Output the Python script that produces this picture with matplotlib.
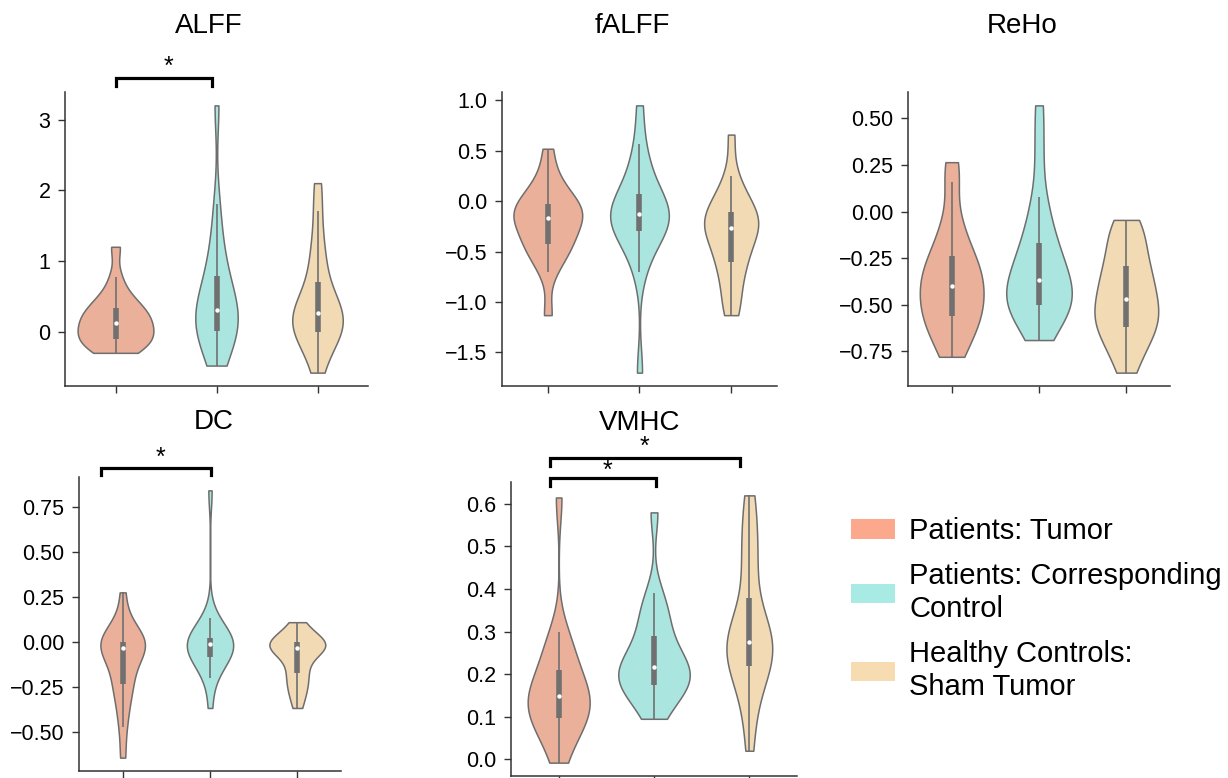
import matplotlib
matplotlib.use("Agg")
import matplotlib.pyplot as plt
from matplotlib.patches import Patch
from matplotlib.ticker import MultipleLocator
from matplotlib import cbook

plt.rcParams['font.family'] = ['Liberation Sans', 'DejaVu Sans']

groups = ['Patients: Tumor', 'Patients: Corresponding\nControl', 'Healthy Controls:\nSham Tumor']
violin_colors = ['#EBB09A', '#ABE5DF', '#F2DAB5']
legend_colors = ['#FBA88D', '#A8EBE4', '#F6DCB0']

# estimated samples per group (min, quartiles, median, whiskers, max)
alff_tumor = [-0.30, -0.28, -0.22, -0.15, -0.11, -0.10, -0.06, -0.02, 0.05, 0.10,
              0.14, 0.18, 0.22, 0.27, 0.31, 0.39, 0.45, 0.55, 0.77, 1.20]
alff_ctrl = [-0.48, -0.35, -0.22, -0.10, -0.02, 0.02, 0.10, 0.17, 0.22, 0.27,
             0.33, 0.42, 0.52, 0.62, 0.75, 0.92, 1.10, 1.38, 1.80, 3.20]
alff_sham = [-0.58, -0.35, -0.18, -0.06, 0.00, 0.00, 0.06, 0.12, 0.18, 0.23,
             0.29, 0.35, 0.42, 0.52, 0.64, 0.88, 1.05, 1.30, 1.70, 2.10]

falff_tumor = [-1.13, -0.70, -0.58, -0.50, -0.43, -0.42, -0.36, -0.29, -0.22, -0.19,
               -0.15, -0.12, -0.09, -0.07, -0.05, 0.03, 0.08, 0.15, 0.28, 0.52]
falff_ctrl = [-1.70, -0.70, -0.52, -0.41, -0.30, -0.29, -0.24, -0.20, -0.17, -0.14,
              -0.12, -0.09, -0.05, -0.01, 0.04, 0.16, 0.25, 0.38, 0.57, 0.95]
falff_sham = [-1.13, -1.02, -0.88, -0.72, -0.61, -0.60, -0.48, -0.40, -0.33, -0.29,
              -0.25, -0.21, -0.18, -0.15, -0.13, -0.05, 0.02, 0.10, 0.25, 0.66]

reho_tumor = [-0.78, -0.72, -0.66, -0.61, -0.57, -0.56, -0.52, -0.48, -0.45, -0.42,
              -0.38, -0.35, -0.32, -0.29, -0.25, -0.21, -0.12, -0.05, 0.16, 0.265]
reho_ctrl = [-0.69, -0.60, -0.55, -0.52, -0.51, -0.50, -0.47, -0.45, -0.42, -0.40,
             -0.34, -0.31, -0.27, -0.23, -0.19, -0.11, -0.03, 0.08, 0.33, 0.57]
reho_sham = [-0.865, -0.78, -0.72, -0.67, -0.64, -0.61, -0.58, -0.55, -0.52, -0.49,
             -0.45, -0.42, -0.38, -0.34, -0.30, -0.26, -0.20, -0.14, -0.09, -0.045]

dc_tumor = [-0.64, -0.47, -0.38, -0.30, -0.24, -0.23, -0.18, -0.12, -0.08, -0.05,
            -0.02, -0.01, -0.01, 0.00, 0.00, 0.00, 0.02, 0.06, 0.12, 0.275]
dc_ctrl = [-0.365, -0.20, -0.15, -0.11, -0.08, -0.08, -0.06, -0.04, -0.03, -0.02,
           0.00, 0.00, 0.01, 0.01, 0.02, 0.02, 0.05, 0.09, 0.135, 0.84]
dc_sham = [-0.365, -0.30, -0.26, -0.23, -0.18, -0.17, -0.12, -0.08, -0.06, -0.04,
           -0.03, -0.02, -0.02, -0.01, 0.00, 0.00, 0.02, 0.04, 0.07, 0.11]

vmhc_tumor = [-0.008, 0.03, 0.06, 0.08, 0.094, 0.098, 0.11, 0.12, 0.13, 0.14,
              0.155, 0.16, 0.17, 0.18, 0.20, 0.24, 0.25, 0.27, 0.30, 0.615]
vmhc_ctrl = [0.095, 0.12, 0.15, 0.165, 0.172, 0.176, 0.185, 0.195, 0.20, 0.21,
             0.222, 0.23, 0.245, 0.26, 0.28, 0.32, 0.33, 0.36, 0.39, 0.58]
vmhc_sham = [0.02, 0.10, 0.15, 0.19, 0.205, 0.225, 0.24, 0.25, 0.26, 0.27,
             0.28, 0.29, 0.31, 0.33, 0.36, 0.44, 0.47, 0.52, 0.57, 0.62]

metrics = ['ALFF', 'fALFF', 'ReHo', 'DC', 'VMHC']
metric_data = {
    'ALFF': [alff_tumor, alff_ctrl, alff_sham],
    'fALFF': [falff_tumor, falff_ctrl, falff_sham],
    'ReHo': [reho_tumor, reho_ctrl, reho_sham],
    'DC': [dc_tumor, dc_ctrl, dc_sham],
    'VMHC': [vmhc_tumor, vmhc_ctrl, vmhc_sham],
}
tick_step = {'ALFF': 1, 'fALFF': 0.5, 'ReHo': 0.25, 'DC': 0.25, 'VMHC': 0.1}

# violin widths as drawn in the figure
widths = {
    'ALFF': [0.75, 0.42, 0.50],
    'fALFF': [0.75, 0.64, 0.59],
    'ReHo': [0.73, 0.75, 0.73],
    'DC': [0.51, 0.53, 0.64],
    'VMHC': [0.65, 0.75, 0.48],
}

# significance brackets: (x_start, x_end, y, star_x, star_y)
brackets = {
    'ALFF': [(0.0, 0.96, 3.58, 0.52, 3.648)],
    'DC': [(-0.25, 1.01, 0.964, 0.43, 0.98)],
    'VMHC': [(-0.09, 1.90, 0.707, 0.905, 0.717), (-0.09, 1.02, 0.660, 0.507, 0.660)],
}

fig = plt.figure(figsize=(12.28, 7.78), dpi=100)
W, H = 1228, 778
boxes = {  # left, right, top, bottom in pixels
    'ALFF': (65, 368, 92, 386),
    'fALFF': (502, 777, 92, 386),
    'ReHo': (908, 1170, 92, 386),
    'DC': (79, 341, 477, 771),
    'VMHC': (511, 797, 482, 776),
}
title_pos = {'ALFF': (0.475, 1.20), 'fALFF': (0.473, 1.20), 'ReHo': (0.435, 1.20),
             'DC': (0.515, 1.163), 'VMHC': (0.451, 1.177)}

pos = [0, 1, 2]
for m in metrics:
    l, r, t, b = boxes[m]
    ax = fig.add_axes([l / W, 1 - b / H, (r - l) / W, (b - t) / H])
    data = metric_data[m]
    parts = ax.violinplot(data, positions=pos, widths=widths[m], showextrema=False,
                          bw_method=0.8 * len(data[0]) ** -0.2)
    for body, c in zip(parts['bodies'], violin_colors):
        body.set_facecolor(c)
        body.set_edgecolor('#6E6E6E')
        body.set_linewidth(1.1)
        body.set_alpha(1)
    stats = cbook.boxplot_stats(data)
    for p, st in zip(pos, stats):
        ax.vlines(p, st['whislo'], st['whishi'], color='#707070', lw=1.2, zorder=3)
        ax.vlines(p, st['q1'], st['q3'], color='#707070', lw=4.0, zorder=3)
        ax.plot(p, st['med'], 'o', color='white', ms=3.2, mew=0, zorder=4)
    ax.set_xlim(-0.5, 2.5)
    ylim = ax.get_ylim()
    ax.set_xticks(pos)
    ax.set_xticklabels(['', '', ''])
    ax.yaxis.set_major_locator(MultipleLocator(tick_step[m]))
    ax.spines['top'].set_visible(False)
    ax.spines['right'].set_visible(False)
    for s in ['left', 'bottom']:
        ax.spines[s].set_color('#333333')
        ax.spines[s].set_linewidth(1.1)
    ax.tick_params(axis='both', labelsize=15.5, length=5, width=1.0, color='#333333', pad=5.5)
    tx, ty = title_pos[m]
    ax.text(tx, ty, m, transform=ax.transAxes, ha='center', va='baseline', fontsize=20)
    leg = (ylim[1] - ylim[0]) * 0.025
    for x0, x1, y, sx, sy in brackets.get(m, []):
        ax.plot([x0, x0, x1, x1], [y - leg, y, y, y - leg], color='black', lw=2.3,
                clip_on=False, solid_joinstyle='miter')
        ax.text(sx, sy, '*', ha='center', va='baseline', fontsize=18, clip_on=False)
    ax.set_ylim(ylim)

handles = [Patch(facecolor=c, edgecolor='none') for c in legend_colors]
fig.legend(handles, groups, loc='upper left', bbox_to_anchor=(851 / W, 1 - 517 / H),
           frameon=False, fontsize=21, handlelength=1.52, handleheight=0.66,
           handletextpad=0.48, labelspacing=0.6, borderpad=0, borderaxespad=0)

fig.savefig('out.png', dpi=100)
